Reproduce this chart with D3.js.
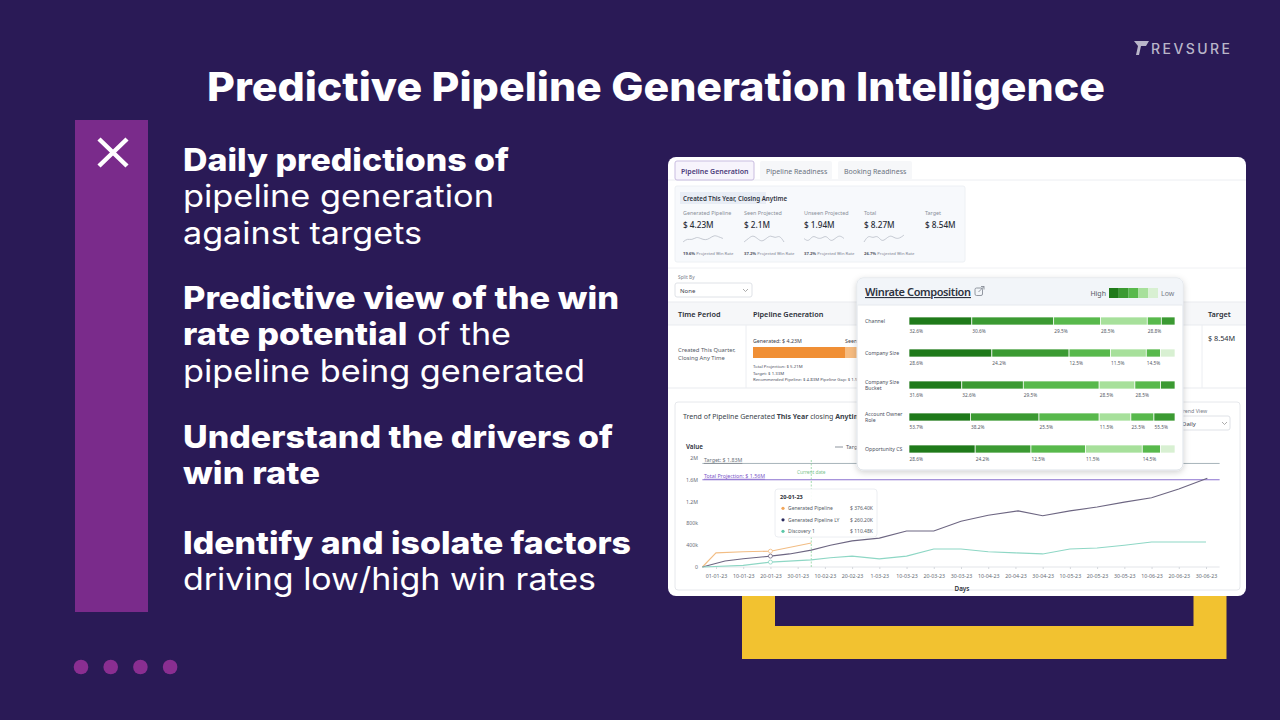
<!DOCTYPE html>
<html>
<head>
<meta charset="utf-8">
<script src="https://cdn.jsdelivr.net/npm/d3@7"></script>
<style>
html, body { margin: 0; padding: 0; background: #2a1a56; }
svg { display: block; }
</style>
</head>
<body>
<script>
// ---- slide text ----
const slideTitle = 'Predictive Pipeline Generation Intelligence';
const bulletLines = [
	[{ t: 'Daily predictions of', b: true }],
	[{ t: 'pipeline generation' }],
	[{ t: 'against targets' }],
	[{ t: 'Predictive view of the win', b: true }],
	[{ t: 'rate potential', b: true }, { t: ' of the' }],
	[{ t: 'pipeline being generated' }],
	[{ t: 'Understand the drivers of', b: true }],
	[{ t: 'win rate', b: true }],
	[{ t: 'Identify and isolate factors', b: true }],
	[{ t: 'driving low/high win rates' }],
];
const pageDots = [1, 2, 3, 4];

// ---- dashboard ----
const tabNames = ['Pipeline Generation', 'Pipeline Readiness', 'Booking Readiness'];
const kpiHeader = 'Created This Year, Closing Anytime';
const kpiLabels = ['Generated Pipeline', 'Seen Projected', 'Unseen Projected', 'Total', 'Target'];
const kpiValues = ['$ 4.23M', '$ 2.1M', '$ 1.94M', '$ 8.27M', '$ 8.54M'];
const kpiWinRates = ['19.6%', '37.2%', '37.2%', '26.7%'];
const kpiSparks = [
	[3, 5, 4, 6, 5, 4, 5, 7, 6, 5],
	[4, 5, 6, 5, 4, 5, 6, 5, 6, 4],
	[5, 4, 6, 5, 5, 6, 4, 5, 6, 5],
	[4, 6, 5, 6, 4, 5, 6, 5, 5, 6],
];

const pipelineGenerated = 4.23;
const pipelineSeen = 2.1;

// ---- winrate composition ----
const winrateFactors = [
	['Channel'],
	['Company Size'],
	['Company Size', 'Bucket'],
	['Account Owner', 'Role'],
	['Opportunity CS'],
];
const winrateShares = [
	[188, 245, 140, 140, 42, 41],
	[248, 231, 124, 107, 43, 43],
	[158, 184, 227, 107, 77, 43],
	[184, 205, 180, 95, 69, 63],
	[198, 167, 163, 170, 55, 43],
];
const winrateRates = [
	['32.6%', '30.6%', '29.5%', '28.5%', '28.8%'],
	['28.6%', '24.2%', '12.5%', '11.5%', '14.5%'],
	['31.6%', '32.6%', '29.5%', '28.5%', '28.5%'],
	['53.7%', '38.2%', '25.5%', '11.5%', '23.5%', '55.5%'],
	['28.6%', '24.2%', '12.5%', '11.5%', '14.5%'],
];
const winrateLevels = [
	[0, 1, 2, 3, 2, 1],
	[0, 1, 2, 3, 2, 4],
	[0, 1, 2, 3, 2, 1],
	[0, 1, 2, 3, 2, 1],
	[0, 1, 2, 3, 2, 4],
];

// ---- trend chart ----
const trendDays = ['01-01-23', '10-01-23', '20-01-23', '30-01-23', '10-02-23', '20-02-23', '1-03-23', '10-03-23', '20-03-23', '30-03-23', '10-04-23', '20-04-23', '30-04-23', '10-05-23', '20-05-23', '30-05-23', '10-06-23', '20-06-23', '30-06-23'];
const valueTicks = [0, 400000, 800000, 1200000, 1600000, 2000000];
const valueTickLabels = ['0', '400k', '800k', '1.2M', '1.6M', '2M'];
const targetValue = 1900000;
const projectionValue = 1600000;
const currentDay = 3.5;
const generatedPipeline = [[-0.5, 0], [0, 260000], [1, 280000], [2, 290000], [3.5, 440000]];
const generatedPipelineLY = [[-0.5, 0], [0.33, 110000], [1, 150000], [2, 200000], [2.7, 240000], [3.5, 310000], [4.2, 400000], [5, 480000], [6, 530000], [7, 660000], [8, 660000], [9, 840000], [10, 950000], [11.1, 1030000], [12, 940000], [13, 1030000], [14, 1100000], [15, 1190000], [16, 1270000], [17, 1430000], [18.05, 1630000]];
const discovery1 = [[-0.5, 0], [1, 30000], [2, 90000], [3.5, 130000], [4.2, 170000], [5, 200000], [6, 150000], [7, 200000], [8, 330000], [9, 330000], [10, 280000], [11, 260000], [12, 240000], [13, 330000], [14, 350000], [15, 400000], [16, 460000], [17, 460000], [18, 460000]];
const tooltipDate = '20-01-23';
const tooltipSeries = ['Generated Pipeline', 'Generated Pipeline LY', 'Discovery 1'];
const tooltipValues = ['$ 376.40K', '$ 260.20K', '$ 110.48K'];

const slideFont = 'Inter, "Open Sans", sans-serif';
const uiFont = '"Noto Sans", "Open Sans", sans-serif';

const svg = d3.select('body').append('svg').attr('width', 1280).attr('height', 720);

const defs = svg.append('defs');
const shadow = defs.append('filter').attr('id', 'shadow').attr('x', '-10%').attr('y', '-10%').attr('width', '120%').attr('height', '130%');
shadow.append('feDropShadow').attr('dx', 0).attr('dy', 2).attr('stdDeviation', 3).attr('flood-color', '#000').attr('flood-opacity', 0.18);

svg.append('rect').attr('width', 1280).attr('height', 720).attr('fill', '#2a1a56');

// title
svg.append('text')
	.attr('x', 207)
	.attr('y', 101)
	.attr('textLength', 898)
	.attr('lengthAdjust', 'spacingAndGlyphs')
	.attr('font-family', slideFont)
	.attr('font-weight', 800)
	.attr('font-size', 40)
	.attr('fill', '#ffffff')
	.text(slideTitle);

// logo
svg.append('path')
	.attr('d', 'M1134,41 L1149,41 L1146,46 L1141,46 L1139,55 L1136,55 L1138,46 Z')
	.attr('fill', '#b9b6c9');
svg.append('text')
	.attr('x', 1151)
	.attr('y', 54)
	.attr('textLength', 79)
	.attr('font-family', slideFont)
	.attr('font-weight', 500)
	.attr('font-size', 14)
	.attr('fill', '#b9b6c9')
	.text('REVSURE');

// left bar
svg.append('rect').attr('x', 75).attr('y', 120).attr('width', 73).attr('height', 492).attr('fill', '#7a2b8b');
svg.append('path')
	.attr('d', 'M99,139 L127,166 M127,139 L99,166')
	.attr('stroke', '#ffffff')
	.attr('stroke-width', 4.5);

// bullets
const bulletBaselines = [171, 207, 244, 309, 345, 382, 448, 484, 554, 590];
const bulletWidths = [326, 311, 239, 436, 328, 402, 430, 137, 448, 413];
bulletLines.forEach((parts, i) => {
	const t = svg.append('text')
		.attr('x', 183)
		.attr('y', bulletBaselines[i])
		.attr('textLength', bulletWidths[i])
		.attr('lengthAdjust', 'spacingAndGlyphs')
		.attr('font-family', slideFont)
		.attr('font-size', 31)
		.attr('fill', '#ffffff')
		.style('white-space', 'pre');
	parts.forEach((p) => {
		t.append('tspan').attr('font-weight', p.b ? 800 : 400).text(p.t);
	});
});

svg.selectAll('circle.dot')
	.data(pageDots)
	.join('circle')
	.attr('class', 'dot')
	.attr('cx', (d, i) => 81 + i * 29.7)
	.attr('cy', 667)
	.attr('r', 7.3)
	.attr('fill', '#8a2e91');

// yellow frame behind the dashboard
svg.append('rect')
	.attr('x', 758.5)
	.attr('y', 480)
	.attr('width', 451.5)
	.attr('height', 162.5)
	.attr('fill', 'none')
	.attr('stroke', '#f2c230')
	.attr('stroke-width', 33);

// dashboard card
const card = svg.append('g');
card.append('rect')
	.attr('x', 668).attr('y', 157).attr('width', 578).attr('height', 439).attr('rx', 8)
	.attr('fill', '#ffffff');

// tabs
const tabX = [675, 760, 838];
const tabW = [79, 72, 74];
card.append('line').attr('x1', 668).attr('x2', 1246).attr('y1', 180).attr('y2', 180).attr('stroke', '#eceef2');
tabNames.forEach((name, i) => {
	card.append('rect')
		.attr('x', tabX[i]).attr('y', 161).attr('width', tabW[i]).attr('height', 19).attr('rx', 2)
		.attr('fill', i === 0 ? '#f7f4fc' : '#f6f7f9')
		.attr('stroke', i === 0 ? '#c9bde0' : 'none');
	card.append('text')
		.attr('x', tabX[i] + 6).attr('y', 173.5)
		.attr('font-family', uiFont).attr('font-size', 7)
		.attr('font-weight', i === 0 ? 600 : 400)
		.attr('fill', i === 0 ? '#4b3b7a' : '#6b7280')
		.text(name);
});

// KPI box
card.append('rect').attr('x', 675).attr('y', 186).attr('width', 290).attr('height', 76).attr('rx', 2)
	.attr('fill', '#f7f9fc').attr('stroke', '#edf0f4');
card.append('rect').attr('x', 680).attr('y', 192).attr('width', 86).attr('height', 12).attr('fill', '#e8edf5');
card.append('text').attr('x', 683).attr('y', 200.5)
	.attr('font-family', uiFont).attr('font-size', 6.2).attr('font-weight', 600).attr('fill', '#2f3441')
	.text(kpiHeader);
const kpiX = [683, 744, 804, 864, 925];
kpiLabels.forEach((label, i) => {
	card.append('text').attr('x', kpiX[i]).attr('y', 215)
		.attr('font-family', uiFont).attr('font-size', 5.4).attr('fill', '#8a8f99').text(label);
	card.append('text').attr('x', kpiX[i]).attr('y', 227.5)
		.attr('font-family', uiFont).attr('font-size', 8.2).attr('font-weight', 500).attr('fill', '#2b2f38').text(kpiValues[i]);
});
kpiSparks.forEach((vals, i) => {
	const sx = d3.scaleLinear().domain([0, vals.length - 1]).range([kpiX[i], kpiX[i] + 40]);
	const sy = d3.scaleLinear().domain(d3.extent(vals)).range([242, 235]);
	card.append('path')
		.attr('d', d3.line().x((d, j) => sx(j)).y((d) => sy(d)).curve(d3.curveBasis)(vals))
		.attr('fill', 'none').attr('stroke', '#b8bcc6').attr('stroke-width', 0.8);
	const wt = card.append('text').attr('x', kpiX[i]).attr('y', 254.5)
		.attr('font-family', uiFont).attr('font-size', 4.2).attr('fill', '#7b8090');
	wt.append('tspan').attr('font-weight', 700).attr('fill', '#4b5060').text(kpiWinRates[i]);
	wt.append('tspan').text(' Projected Win Rate');
});
card.append('line').attr('x1', 668).attr('x2', 1246).attr('y1', 268).attr('y2', 268).attr('stroke', '#f0f1f4');

// split by
card.append('text').attr('x', 678).attr('y', 279).attr('font-family', uiFont).attr('font-size', 4.8).attr('fill', '#777c88').text('Split By');
card.append('rect').attr('x', 675).attr('y', 283).attr('width', 77).attr('height', 14).attr('rx', 2).attr('fill', '#ffffff').attr('stroke', '#dfe2e7');
card.append('text').attr('x', 680).attr('y', 292.5).attr('font-family', uiFont).attr('font-size', 6).attr('fill', '#3c414c').text('None');
card.append('path').attr('d', 'M743,289 l2.5,2.5 l2.5,-2.5').attr('fill', 'none').attr('stroke', '#888').attr('stroke-width', 0.7);

// table
card.append('rect').attr('x', 668).attr('y', 302).attr('width', 578).attr('height', 23).attr('fill', '#f6f7f9');
card.append('line').attr('x1', 668).attr('x2', 1246).attr('y1', 302).attr('y2', 302).attr('stroke', '#e9ebef');
card.append('line').attr('x1', 668).attr('x2', 1246).attr('y1', 325).attr('y2', 325).attr('stroke', '#e9ebef');
card.append('line').attr('x1', 668).attr('x2', 1246).attr('y1', 388).attr('y2', 388).attr('stroke', '#e9ebef');
card.append('line').attr('x1', 746).attr('x2', 746).attr('y1', 325).attr('y2', 388).attr('stroke', '#eceef2');
card.append('line').attr('x1', 1202).attr('x2', 1202).attr('y1', 325).attr('y2', 388).attr('stroke', '#eceef2');
[['Time Period', 678], ['Pipeline Generation', 753], ['Target', 1208]].forEach(([t, x]) => {
	card.append('text').attr('x', x).attr('y', 316.5)
		.attr('font-family', uiFont).attr('font-size', 7.3).attr('font-weight', 600).attr('fill', '#2b2f38').text(t);
});
card.append('text').attr('x', 678).attr('y', 352).attr('font-family', uiFont).attr('font-size', 5.8).attr('fill', '#555b66').text('Created This Quarter,');
card.append('text').attr('x', 678).attr('y', 360).attr('font-family', uiFont).attr('font-size', 5.8).attr('fill', '#555b66').text('Closing Any Time');
card.append('text').attr('x', 1208).attr('y', 341).attr('font-family', uiFont).attr('font-size', 7.3).attr('fill', '#2b2f38').text('$ 8.54M');

const genScale = d3.scaleLinear().domain([0, pipelineGenerated]).range([753, 845]);
card.append('text').attr('x', 753).attr('y', 343).attr('font-family', uiFont).attr('font-size', 5.3).attr('fill', '#3c414c').text('Generated: $ 4.23M');
card.append('text').attr('x', genScale(pipelineGenerated)).attr('y', 343).attr('font-family', uiFont).attr('font-size', 5.3).attr('fill', '#3c414c').text('Seen Projected: $ 2.1M');
card.append('rect').attr('x', genScale(0)).attr('y', 347).attr('width', genScale(pipelineGenerated) - genScale(0)).attr('height', 11).attr('fill', '#f08f35');
card.append('rect').attr('x', genScale(pipelineGenerated)).attr('y', 347).attr('width', genScale(pipelineSeen) - genScale(0)).attr('height', 11).attr('fill', '#f6bb80');
[['Total Projection: $ 5.21M', 368], ['Target: $ 1.33M', 374.5], ['Recommended Pipeline: $ 4.83M  Pipeline Gap: $ 1.98M', 381]].forEach(([t, y]) => {
	card.append('text').attr('x', 753).attr('y', y).attr('font-family', uiFont).attr('font-size', 4.3).attr('fill', '#4b5060').text(t);
});

// trend panel
card.append('rect').attr('x', 675).attr('y', 402).attr('width', 565).attr('height', 188).attr('rx', 3)
	.attr('fill', '#ffffff').attr('stroke', '#e6e8ec');
const trendTitle = card.append('text').attr('x', 683).attr('y', 418.5)
	.attr('font-family', uiFont).attr('font-size', 7).attr('fill', '#3a3f4a').style('white-space', 'pre');
trendTitle.append('tspan').text('Trend of Pipeline Generated ');
trendTitle.append('tspan').attr('font-weight', 700).text('This Year');
trendTitle.append('tspan').text(' closing ');
trendTitle.append('tspan').attr('font-weight', 700).text('Anytime');

card.append('text').attr('x', 1180).attr('y', 413).attr('font-family', uiFont).attr('font-size', 5.3).attr('fill', '#777c88').text('Trend View');
card.append('rect').attr('x', 1178).attr('y', 416).attr('width', 52).attr('height', 14).attr('rx', 2).attr('fill', '#ffffff').attr('stroke', '#dfe2e7');
card.append('text').attr('x', 1182).attr('y', 425.5).attr('font-family', uiFont).attr('font-size', 6).attr('fill', '#3c414c').text('Daily');
card.append('path').attr('d', 'M1222,422 l2.5,2.5 l2.5,-2.5').attr('fill', 'none').attr('stroke', '#888').attr('stroke-width', 0.7);

const xTrend = d3.scaleLinear().domain([0, trendDays.length - 1]).range([716, 1206]);
const yTrend = d3.scaleLinear().domain([0, 2000000]).range([567, 458]);

card.append('text').attr('x', 686).attr('y', 449).attr('font-family', uiFont).attr('font-size', 6.3).attr('font-weight', 600).attr('fill', '#2b2f38').text('Value');
card.append('line').attr('x1', 835).attr('x2', 843).attr('y1', 447).attr('y2', 447).attr('stroke', '#8e959e').attr('stroke-width', 1);
card.append('text').attr('x', 846).attr('y', 449).attr('font-family', uiFont).attr('font-size', 5.5).attr('fill', '#555b66').text('Target');

card.selectAll('text.ytick')
	.data(valueTicks)
	.join('text')
	.attr('class', 'ytick')
	.attr('x', 698)
	.attr('y', (d) => yTrend(d) + 2)
	.attr('text-anchor', 'end')
	.attr('font-family', uiFont)
	.attr('font-size', 5.2)
	.attr('fill', '#666b75')
	.text((d, i) => valueTickLabels[i]);

card.append('line')
	.attr('x1', xTrend(-0.5)).attr('x2', xTrend(18.5))
	.attr('y1', yTrend(0)).attr('y2', yTrend(0))
	.attr('stroke', '#e3e5e9');

const xAxis = card.append('g')
	.attr('transform', `translate(0,${yTrend(0)})`)
	.call(d3.axisBottom(xTrend).tickValues(d3.range(trendDays.length)).tickFormat((i) => trendDays[i]).tickSize(2).tickPadding(5));
xAxis.select('.domain').remove();
xAxis.selectAll('line').attr('stroke', '#d5d8dd');
xAxis.selectAll('text').attr('font-family', uiFont).attr('font-size', 5.3).attr('fill', '#666b75');

card.append('text').attr('x', 962).attr('y', 591).attr('text-anchor', 'middle').attr('font-family', uiFont).attr('font-size', 6.3).attr('font-weight', 600).attr('fill', '#2b2f38').text('Days');

// target & projection
card.append('line')
	.attr('x1', xTrend(-0.5)).attr('x2', xTrend(18.5))
	.attr('y1', yTrend(targetValue)).attr('y2', yTrend(targetValue))
	.attr('stroke', '#a7b4ba').attr('stroke-width', 1);
card.append('text').attr('x', 704).attr('y', yTrend(targetValue) - 1.5)
	.attr('font-family', uiFont).attr('font-size', 5.3).attr('fill', '#6b7078').attr('text-decoration', 'underline')
	.text('Target: $ 1.83M');
card.append('line')
	.attr('x1', xTrend(-0.5)).attr('x2', xTrend(18.5))
	.attr('y1', yTrend(projectionValue)).attr('y2', yTrend(projectionValue))
	.attr('stroke', '#8a70cf').attr('stroke-width', 1.1);
card.append('text').attr('x', 704).attr('y', yTrend(projectionValue) - 2)
	.attr('font-family', uiFont).attr('font-size', 5.3).attr('fill', '#7a55c8').attr('text-decoration', 'underline')
	.text('Total Projection: $ 1.56M');

// current date
card.append('line')
	.attr('x1', xTrend(currentDay)).attr('x2', xTrend(currentDay))
	.attr('y1', 460).attr('y2', yTrend(0))
	.attr('stroke', '#8fd3a0').attr('stroke-width', 0.8).attr('stroke-dasharray', '2,1.5');
card.append('text').attr('x', xTrend(currentDay)).attr('y', 474)
	.attr('text-anchor', 'middle').attr('font-family', uiFont).attr('font-size', 4.8).attr('fill', '#7cc48f')
	.text('Current date');

const trendLine = d3.line().x((d) => xTrend(d[0])).y((d) => yTrend(d[1]));
const seriesColors = ['#f2bd84', '#6d6682', '#8ed7c5'];
[generatedPipeline, generatedPipelineLY, discovery1].forEach((series, i) => {
	card.append('path')
		.attr('d', trendLine(series))
		.attr('fill', 'none')
		.attr('stroke', seriesColors[i])
		.attr('stroke-width', 1.1);
	const hover = series.find((d) => d[0] === 2);
	card.append('circle')
		.attr('cx', xTrend(hover[0])).attr('cy', yTrend(hover[1])).attr('r', 2)
		.attr('fill', '#ffffff').attr('stroke', seriesColors[i]).attr('stroke-width', 0.8);
});

// tooltip
card.append('rect').attr('x', 775).attr('y', 489).attr('width', 102).attr('height', 48).attr('rx', 3)
	.attr('fill', '#ffffff').attr('fill-opacity', 0.93).attr('stroke', '#eceef2');
card.append('text').attr('x', 780).attr('y', 498.5).attr('font-family', uiFont).attr('font-size', 5.6).attr('font-weight', 700).attr('fill', '#2b2f38').text(tooltipDate);
tooltipSeries.forEach((name, i) => {
	const y = 510 + i * 11.5;
	card.append('circle').attr('cx', 783).attr('cy', y - 1.7).attr('r', 1.6).attr('fill', ['#f2a65a', '#2a2a5e', '#5cc7a8'][i]);
	card.append('text').attr('x', 788).attr('y', y).attr('font-family', uiFont).attr('font-size', 5).attr('fill', '#555b66').text(name);
	card.append('text').attr('x', 850).attr('y', y).attr('font-family', uiFont).attr('font-size', 5).attr('fill', '#555b66').text(tooltipValues[i]);
});

// winrate popup
const shadeColors = ['#1f7a1a', '#3b9a32', '#58b94c', '#a7e09b', '#d8f0d2'];
const pop = svg.append('g');
pop.append('rect').attr('x', 857).attr('y', 278).attr('width', 326).attr('height', 192).attr('rx', 6)
	.attr('fill', '#ffffff').attr('stroke', '#dde2e8').attr('filter', 'url(#shadow)');
pop.append('path')
	.attr('d', 'M857.5,305 L857.5,284 Q857.5,278.5 863,278.5 L1177,278.5 Q1182.5,278.5 1182.5,284 L1182.5,305 Z')
	.attr('fill', '#f2f5f9');
pop.append('line').attr('x1', 857.5).attr('x2', 1182.5).attr('y1', 305).attr('y2', 305).attr('stroke', '#e6e9ee');
pop.append('text').attr('x', 865).attr('y', 296)
	.attr('textLength', 106)
	.attr('font-family', uiFont).attr('font-size', 11).attr('font-weight', 600).attr('fill', '#2d3340')
	.attr('text-decoration', 'underline')
	.text('Winrate Composition');
pop.append('rect').attr('x', 975).attr('y', 288).attr('width', 7.5).attr('height', 7.5).attr('rx', 1.5)
	.attr('fill', 'none').attr('stroke', '#7a808c').attr('stroke-width', 0.8);
pop.append('path').attr('d', 'M978.5,292 L984,286.5 M981,286.5 L984,286.5 L984,289.5')
	.attr('fill', 'none').attr('stroke', '#7a808c').attr('stroke-width', 0.8);
pop.append('text').attr('x', 1106).attr('y', 296).attr('text-anchor', 'end')
	.attr('font-family', uiFont).attr('font-size', 7).attr('fill', '#555b66').text('High');
pop.append('text').attr('x', 1161).attr('y', 296)
	.attr('font-family', uiFont).attr('font-size', 7).attr('fill', '#777c88').text('Low');
pop.selectAll('rect.legend')
	.data(shadeColors)
	.join('rect')
	.attr('class', 'legend')
	.attr('x', (d, i) => 1109 + i * 9.8)
	.attr('y', 288)
	.attr('width', 9.8)
	.attr('height', 10)
	.attr('fill', (d) => d);

const rowTop = (i) => 317 + i * 32;
winrateShares.forEach((shares, r) => {
	const total = d3.sum(shares);
	const xs = d3.scaleLinear().domain([0, total]).range([909, 1175]);
	const starts = d3.cumsum([0].concat(shares));
	const labelLines = winrateFactors[r];
	labelLines.forEach((ln, k) => {
		pop.append('text')
			.attr('x', 865)
			.attr('y', rowTop(r) + 6 - (labelLines.length - 1) * 3.2 + k * 6)
			.attr('font-family', uiFont).attr('font-size', 5.2).attr('fill', '#4b5060')
			.text(ln);
	});
	pop.selectAll(null)
		.data(shares)
		.join('rect')
		.attr('x', (d, i) => xs(starts[i]))
		.attr('y', rowTop(r))
		.attr('width', (d) => xs(d) - xs(0))
		.attr('height', 8)
		.attr('fill', (d, i) => shadeColors[winrateLevels[r][i]])
		.attr('stroke', '#ffffff')
		.attr('stroke-width', 0.7);
	pop.selectAll(null)
		.data(winrateRates[r])
		.join('text')
		.attr('x', (d, i) => xs(starts[i]) + 0.5)
		.attr('y', rowTop(r) + 16)
		.attr('font-family', uiFont)
		.attr('font-size', 4.8)
		.attr('fill', '#555b66')
		.text((d) => d);
});
</script>
</body>
</html>
